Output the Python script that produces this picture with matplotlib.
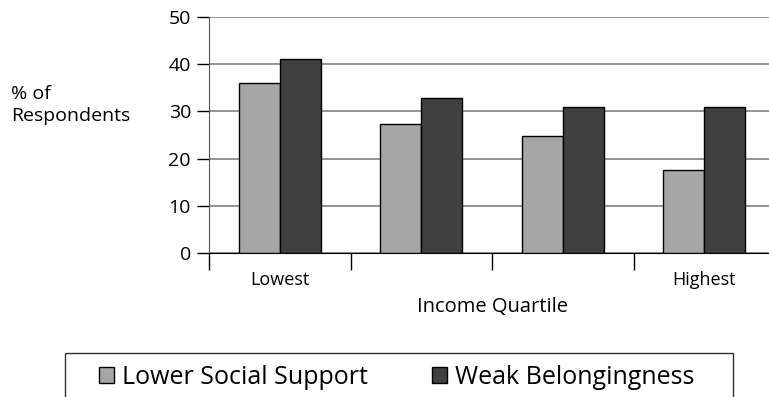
import matplotlib.pyplot as plt
from matplotlib.patches import Rectangle
import numpy as np

plt.rcParams['font.family'] = ['Open Sans', 'DejaVu Sans']

# data
quartiles = ['Lowest', '', '', 'Highest']
lower_support = [36.1, 27.3, 24.7, 17.6]
weak_belonging = [41.1, 32.9, 31.0, 31.0]
y_ticks = [0, 10, 20, 30, 40, 50]

W, H = 769, 397
fig = plt.figure(figsize=(W / 100, H / 100), dpi=100)
ax = fig.add_axes([209 / W, 1 - 253 / H, 566 / W, 236 / H])

x = np.arange(len(quartiles))
w = 0.29
ax.bar(x - w / 2, lower_support, w, color='#a6a6a6', edgecolor='black',
       linewidth=1, label='Lower Social Support', zorder=3)
ax.bar(x + w / 2, weak_belonging, w, color='#404040', edgecolor='black',
       linewidth=1, label='Weak Belongingness', zorder=3)

ax.set_xlim(-0.5, len(quartiles) - 0.5)
ax.set_ylim(0, 50)
ax.set_yticks(y_ticks)
ax.tick_params(axis='y', labelsize=14, length=9, width=1, pad=4)
ax.yaxis.grid(True, color='#808080', linewidth=1.2, zorder=0)

# category boundary ticks, labels centred in the categories
ax.set_xticks(np.arange(-0.5, len(quartiles) - 0.5, 1.0))
ax.set_xticklabels([])
ax.set_xticks(x, minor=True)
ax.set_xticklabels(quartiles, minor=True, fontsize=13)
ax.tick_params(axis='x', which='major', length=12, width=1, direction='out')
ax.tick_params(axis='x', which='minor', length=0, pad=13)

for s in ['top', 'right']:
    ax.spines[s].set_visible(False)
ax.spines['left'].set_color('#555555')
ax.spines['bottom'].set_color('black')

ax.set_xlabel('Income Quartile', fontsize=14.5, labelpad=6)
fig.text(11 / W, 1 - 105 / H, '% of\nRespondents', fontsize=14,
         ha='left', va='center', linespacing=1.25)

# legend frame runs past the bottom edge, as in the original
fig.patches.append(Rectangle((65 / W, -0.05), 668 / W, 1.05 - 353 / H,
                             transform=fig.transFigure, fill=False,
                             edgecolor='#333333', linewidth=1))
fig.legend(loc='center left', bbox_to_anchor=(99 / W, 1 - 377 / H),
           ncol=2, fontsize=18, frameon=False, handlelength=0.6,
           handleheight=0.6, handletextpad=0.3, columnspacing=2.6,
           borderpad=0, borderaxespad=0)

fig.savefig('out.png', dpi=100)
